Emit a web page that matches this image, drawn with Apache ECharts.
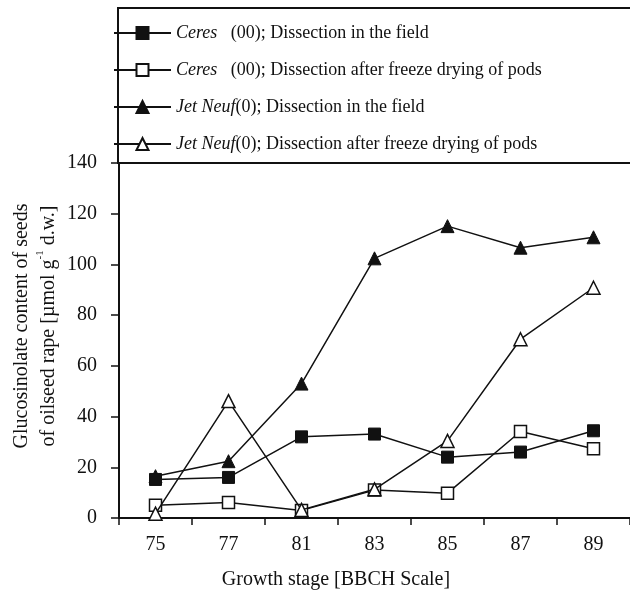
<!DOCTYPE html>
<html>
<head>
<meta charset="utf-8">
<script src="https://cdn.jsdelivr.net/npm/echarts@6/dist/echarts.min.js"></script>
<style>
html,body{margin:0;padding:0;background:#fff;}
#chart{width:630px;height:601px;}
</style>
</head>
<body>
<div id="chart"></div>
<script>
var categories = ['75', '77', '81', '83', '85', '87', '89'];
var ceresField = [15.2, 16.0, 32.0, 33.1, 24.0, 26.0, 34.4];
var ceresFreeze = [5.0, 6.1, 3.0, 11.0, 9.8, 34.1, 27.3];
var jetField = [16.5, 22.4, 53.0, 102.4, 115.1, 106.6, 110.7];
var jetFreeze = [1.7, 46.1, 3.2, 11.3, 30.4, 70.5, 90.8];
var yTicks = [0, 140, 20];
var legendNames = {
  'ceresField': '{i|Ceres}   (00); Dissection in the field',
  'ceresFreeze': '{i|Ceres}   (00); Dissection after freeze drying of pods',
  'jetField': '{i|Jet Neuf}(0); Dissection in the field',
  'jetFreeze': '{i|Jet Neuf}(0); Dissection after freeze drying of pods'
};

var FONT = 'Liberation Serif';
var chart = echarts.init(document.getElementById('chart'), null, {renderer: 'canvas'});

function mkSeries(name, data, symbol, filled, z) {
  return {
    name: name,
    type: 'line',
    data: data,
    symbol: symbol,
    symbolSize: symbol === 'triangle' ? 13 : 12,
    showSymbol: true,
    z: z,
    lineStyle: {color: '#111', width: 1.5},
    itemStyle: filled ? {color: '#111', borderColor: '#111', borderWidth: 1} : {color: '#fff', borderColor: '#111', borderWidth: 1.5},
    emphasis: {disabled: true},
    animation: false
  };
}

var option = {
  backgroundColor: '#fff',
  animation: false,
  grid: {left: 119, top: 163, width: 512, height: 355},
  legend: {
    orient: 'vertical',
    left: 108,
    top: 19,
    itemWidth: 57,
    itemHeight: 15,
    itemGap: 19,
    data: ['ceresField', 'ceresFreeze', 'jetField', 'jetFreeze'],
    formatter: function (n) { return legendNames[n]; },
    textStyle: {
      fontFamily: FONT, fontSize: 18, color: '#111',
      rich: {i: {fontFamily: FONT, fontSize: 18, fontStyle: 'italic', color: '#111'}}
    },
    selectedMode: false
  },
  xAxis: {
    type: 'category',
    data: categories,
    boundaryGap: true,
    axisLine: {lineStyle: {color: '#111', width: 2}},
    axisTick: {show: true, length: 7, alignWithLabel: false, lineStyle: {color: '#111', width: 1.5}},
    axisLabel: {fontFamily: FONT, fontSize: 20, color: '#111', margin: 17},
    splitLine: {show: false}
  },
  yAxis: {
    type: 'value',
    min: yTicks[0], max: yTicks[1], interval: yTicks[2],
    axisLine: {show: true, lineStyle: {color: '#111', width: 2}},
    axisTick: {show: true, length: 8, lineStyle: {color: '#111', width: 1.5}},
    axisLabel: {fontFamily: FONT, fontSize: 20, color: '#111', margin: 22},
    splitLine: {show: false}
  },
  graphic: [
    {
      type: 'polyline',
      shape: {points: [[640, 8], [118, 8], [118, 163], [640, 163]]},
      style: {fill: null, stroke: '#111', lineWidth: 2},
      z: 10
    },
    {
      type: 'text',
      x: 336, y: 580,
      style: {text: 'Growth stage [BBCH Scale]', fontFamily: FONT, fontSize: 20, fill: '#111', align: 'center', verticalAlign: 'middle'}
    },
    {
      type: 'text',
      x: 35, y: 326,
      rotation: Math.PI / 2,
      style: {
        text: '{m|Glucosinolate content of seeds}\n{m|of oilseed rape [µmol g}{s|-1}{m| d.w.]}',
        align: 'center', verticalAlign: 'middle',
        rich: {
          m: {fontFamily: FONT, fontSize: 20, lineHeight: 27, fill: '#111', color: '#111'},
          s: {fontFamily: FONT, fontSize: 11, lineHeight: 14, verticalAlign: 'top', fill: '#111', color: '#111'}
        }
      }
    }
  ],
  series: [
    mkSeries('jetField', jetField, 'triangle', true, 2),
    mkSeries('ceresFreeze', ceresFreeze, 'rect', false, 3),
    mkSeries('jetFreeze', jetFreeze, 'triangle', false, 4),
    mkSeries('ceresField', ceresField, 'rect', true, 5)
  ]
};
chart.setOption(option);
</script>
</body>
</html>
